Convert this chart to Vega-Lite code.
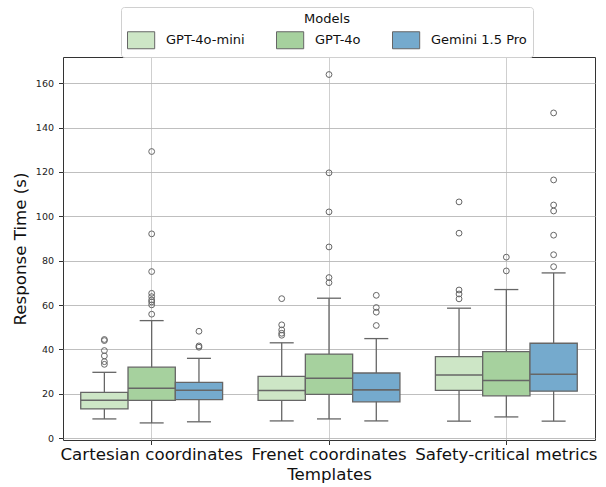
{
  "$schema": "https://vega.github.io/schema/vega-lite/v6.json",
  "width": 532,
  "height": 383,
  "autosize": {"type": "none"},
  "padding": {"left": 63, "top": 57, "right": 11, "bottom": 47},
  "background": "white",
  "config": {
    "font": "DejaVu Sans",
    "view": {"stroke": "#333333", "strokeWidth": 1},
    "axis": {"domain": false, "tickColor": "#333333", "labelColor": "#222222", "titleColor": "#111111", "titleFontWeight": "normal"}
  },
  "datasets": {
    "boxes": [
      {"template": "Cartesian coordinates", "model": "GPT-4o-mini", "lower": 8.7, "q1": 13.2, "median": 17.1, "q3": 20.7, "upper": 29.7},
      {"template": "Cartesian coordinates", "model": "GPT-4o", "lower": 6.9, "q1": 17.1, "median": 22.5, "q3": 32.0, "upper": 53.0},
      {"template": "Cartesian coordinates", "model": "Gemini 1.5 Pro", "lower": 7.4, "q1": 17.4, "median": 21.6, "q3": 25.2, "upper": 36.0},
      {"template": "Frenet coordinates", "model": "GPT-4o-mini", "lower": 7.8, "q1": 17.1, "median": 21.5, "q3": 27.9, "upper": 43.0},
      {"template": "Frenet coordinates", "model": "GPT-4o", "lower": 8.7, "q1": 19.8, "median": 27.0, "q3": 37.9, "upper": 63.1},
      {"template": "Frenet coordinates", "model": "Gemini 1.5 Pro", "lower": 7.8, "q1": 16.4, "median": 21.8, "q3": 29.4, "upper": 44.9},
      {"template": "Safety-critical metrics", "model": "GPT-4o-mini", "lower": 7.7, "q1": 21.6, "median": 28.5, "q3": 36.8, "upper": 58.6},
      {"template": "Safety-critical metrics", "model": "GPT-4o", "lower": 9.6, "q1": 19.1, "median": 26.0, "q3": 39.0, "upper": 67.0},
      {"template": "Safety-critical metrics", "model": "Gemini 1.5 Pro", "lower": 7.7, "q1": 21.2, "median": 28.8, "q3": 42.8, "upper": 74.5}
    ],
    "outliers": [
      {"template": "Cartesian coordinates", "model": "GPT-4o-mini", "value": 44.5},
      {"template": "Cartesian coordinates", "model": "GPT-4o-mini", "value": 44.0},
      {"template": "Cartesian coordinates", "model": "GPT-4o-mini", "value": 39.5},
      {"template": "Cartesian coordinates", "model": "GPT-4o-mini", "value": 37.1},
      {"template": "Cartesian coordinates", "model": "GPT-4o-mini", "value": 34.5},
      {"template": "Cartesian coordinates", "model": "GPT-4o-mini", "value": 33.3},
      {"template": "Cartesian coordinates", "model": "GPT-4o", "value": 129.2},
      {"template": "Cartesian coordinates", "model": "GPT-4o", "value": 92.1},
      {"template": "Cartesian coordinates", "model": "GPT-4o", "value": 75.1},
      {"template": "Cartesian coordinates", "model": "GPT-4o", "value": 65.3},
      {"template": "Cartesian coordinates", "model": "GPT-4o", "value": 63.8},
      {"template": "Cartesian coordinates", "model": "GPT-4o", "value": 62.3},
      {"template": "Cartesian coordinates", "model": "GPT-4o", "value": 61.4},
      {"template": "Cartesian coordinates", "model": "GPT-4o", "value": 60.1},
      {"template": "Cartesian coordinates", "model": "GPT-4o", "value": 55.9},
      {"template": "Cartesian coordinates", "model": "Gemini 1.5 Pro", "value": 48.2},
      {"template": "Cartesian coordinates", "model": "Gemini 1.5 Pro", "value": 41.6},
      {"template": "Cartesian coordinates", "model": "Gemini 1.5 Pro", "value": 41.0},
      {"template": "Frenet coordinates", "model": "GPT-4o-mini", "value": 62.9},
      {"template": "Frenet coordinates", "model": "GPT-4o-mini", "value": 51.1},
      {"template": "Frenet coordinates", "model": "GPT-4o-mini", "value": 48.8},
      {"template": "Frenet coordinates", "model": "GPT-4o-mini", "value": 47.3},
      {"template": "Frenet coordinates", "model": "GPT-4o-mini", "value": 46.4},
      {"template": "Frenet coordinates", "model": "GPT-4o", "value": 163.9},
      {"template": "Frenet coordinates", "model": "GPT-4o", "value": 119.6},
      {"template": "Frenet coordinates", "model": "GPT-4o", "value": 102.0},
      {"template": "Frenet coordinates", "model": "GPT-4o", "value": 86.2},
      {"template": "Frenet coordinates", "model": "GPT-4o", "value": 72.4},
      {"template": "Frenet coordinates", "model": "GPT-4o", "value": 70.1},
      {"template": "Frenet coordinates", "model": "Gemini 1.5 Pro", "value": 64.4},
      {"template": "Frenet coordinates", "model": "Gemini 1.5 Pro", "value": 58.9},
      {"template": "Frenet coordinates", "model": "Gemini 1.5 Pro", "value": 56.8},
      {"template": "Frenet coordinates", "model": "Gemini 1.5 Pro", "value": 50.8},
      {"template": "Safety-critical metrics", "model": "GPT-4o-mini", "value": 106.5},
      {"template": "Safety-critical metrics", "model": "GPT-4o-mini", "value": 92.4},
      {"template": "Safety-critical metrics", "model": "GPT-4o-mini", "value": 66.8},
      {"template": "Safety-critical metrics", "model": "GPT-4o-mini", "value": 65.0},
      {"template": "Safety-critical metrics", "model": "GPT-4o-mini", "value": 62.8},
      {"template": "Safety-critical metrics", "model": "GPT-4o", "value": 81.6},
      {"template": "Safety-critical metrics", "model": "GPT-4o", "value": 75.4},
      {"template": "Safety-critical metrics", "model": "Gemini 1.5 Pro", "value": 146.6},
      {"template": "Safety-critical metrics", "model": "Gemini 1.5 Pro", "value": 116.4},
      {"template": "Safety-critical metrics", "model": "Gemini 1.5 Pro", "value": 105.1},
      {"template": "Safety-critical metrics", "model": "Gemini 1.5 Pro", "value": 102.4},
      {"template": "Safety-critical metrics", "model": "Gemini 1.5 Pro", "value": 91.5},
      {"template": "Safety-critical metrics", "model": "Gemini 1.5 Pro", "value": 82.7},
      {"template": "Safety-critical metrics", "model": "Gemini 1.5 Pro", "value": 77.3}
    ]
  },
  "encoding": {
    "x": {
      "field": "template", "type": "nominal",
      "sort": ["Cartesian coordinates", "Frenet coordinates", "Safety-critical metrics"],
      "scale": {"paddingInner": 0, "paddingOuter": 0},
      "axis": {"title": "Templates", "labelAngle": 0, "labelFontSize": 16.67, "titleFontSize": 16.67, "labelColor": "#111111", "labelPadding": 2, "tickSize": 4.5, "titlePadding": 3, "grid": true, "gridColor": "#cfcfcf", "gridWidth": 1, "bandPosition": 0.5, "labelLimit": 300}
    },
    "xOffset": {
      "field": "model", "type": "nominal",
      "sort": ["GPT-4o-mini", "GPT-4o", "Gemini 1.5 Pro"],
      "scale": {"paddingInner": 0, "paddingOuter": 0.375}
    }
  },
  "layer": [
    {
      "data": {"name": "boxes"},
      "mark": {"type": "rule", "color": "#666666", "strokeWidth": 1.3},
      "encoding": {
        "y": {"field": "lower", "type": "quantitative", "scale": {"domain": [-0.8, 171.8], "nice": false, "zero": false},
          "axis": {"title": "Response Time (s)", "titleFontSize": 16.67, "values": [0, 20, 40, 60, 80, 100, 120, 140, 160], "labelFontSize": 9.5, "tickSize": 4.5, "labelPadding": 5, "titlePadding": 6, "grid": true, "gridColor": "#b8b8b8", "gridWidth": 0.9}},
        "y2": {"field": "upper"}
      }
    },
    {
      "data": {"name": "boxes"},
      "mark": {"type": "bar", "stroke": "#666666", "strokeWidth": 1.3},
      "encoding": {
        "y": {"field": "q1", "type": "quantitative"},
        "y2": {"field": "q3"},
        "color": {
          "field": "model", "type": "nominal",
          "sort": ["GPT-4o-mini", "GPT-4o", "Gemini 1.5 Pro"],
          "scale": {"domain": ["GPT-4o-mini", "GPT-4o", "Gemini 1.5 Pro"], "range": ["#cde6c6", "#a6d19e", "#75aacd"]},
          "legend": {
            "title": "Models", "orient": "none", "direction": "horizontal",
            "legendX": 58, "legendY": -50,
            "titleAnchor": "middle", "titleFontSize": 13, "titleFontWeight": "normal", "titleColor": "#111111", "titlePadding": 5,
            "labelFontSize": 13, "labelColor": "#111111", "labelOffset": 21, "labelLimit": 200,
            "symbolType": "M-1,-1H2.2V1H-1Z", "symbolSize": 289, "symbolStrokeColor": "#666666", "symbolStrokeWidth": 1, "symbolOpacity": 1,
            "columnPadding": 29, "padding": 6,
            "fillColor": "white", "strokeColor": "#d0d0d0", "cornerRadius": 3
          }
        }
      }
    },
    {
      "data": {"name": "boxes"},
      "mark": {"type": "tick", "color": "#666666", "size": 47, "thickness": 1.6, "opacity": 1},
      "encoding": {"y": {"field": "median", "type": "quantitative"}}
    },
    {
      "data": {"name": "boxes"},
      "mark": {"type": "tick", "color": "#666666", "size": 24, "thickness": 1.3, "opacity": 1},
      "encoding": {"y": {"field": "lower", "type": "quantitative"}}
    },
    {
      "data": {"name": "boxes"},
      "mark": {"type": "tick", "color": "#666666", "size": 24, "thickness": 1.3, "opacity": 1},
      "encoding": {"y": {"field": "upper", "type": "quantitative"}}
    },
    {
      "data": {"name": "outliers"},
      "mark": {"type": "point", "shape": "circle", "filled": false, "stroke": "#666666", "strokeWidth": 1, "size": 34, "opacity": 1},
      "encoding": {"y": {"field": "value", "type": "quantitative"}}
    }
  ]
}
